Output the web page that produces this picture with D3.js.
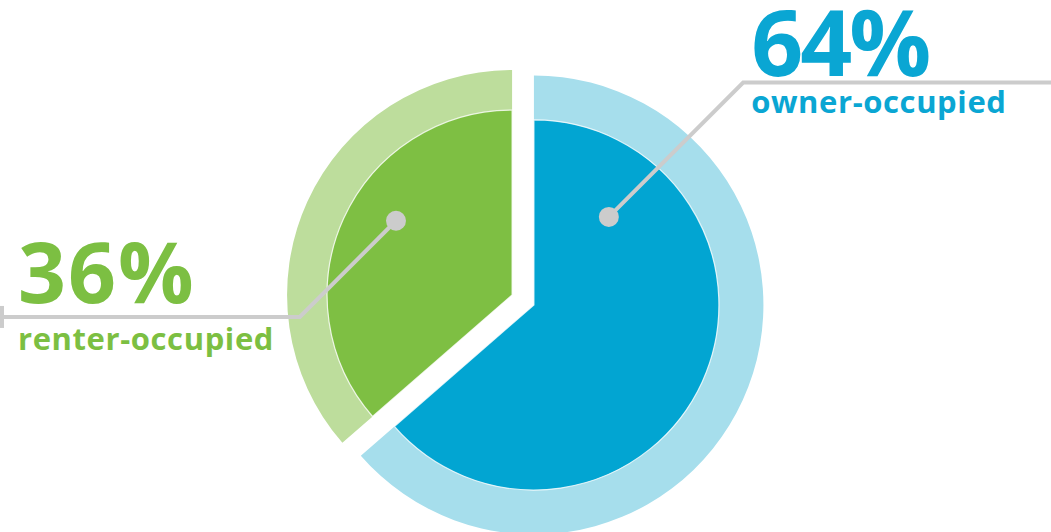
<!DOCTYPE html>
<html>
<head>
<meta charset="utf-8">
<script src="https://cdn.jsdelivr.net/npm/d3@7"></script>
<style>
  html, body { margin: 0; padding: 0; background: #fff; }
  svg { display: block; }
</style>
</head>
<body>
<svg id="chart" width="1051" height="532"></svg>
<script>
/* data */
var categories = ["owner-occupied", "renter-occupied"];
var shares = [63.6, 36.4];

/* colours per category */
var darkColors = ["#02A5D2", "#7EBF43"];
var lightColors = ["#A6DEEC", "#BDDD9C"];
var textColors = ["#0AA6D3", "#7CBF42"];
var lineColor = "#CCCCCC";

var width = 1051, height = 532;
var cx = 523, cy = 300;       // pie centre
var explode = 12;             // slice offset along its bisector
var innerR = 185;
var ringR = [229.5, 225];
// leader dot, polar from slice centre (deg clockwise from top, radius)
var dotPos = [[40.4, 115.6], [302.6, 137.8]];
var elbowLen = [190, 136];
// label typography per slice
var bigSize = [91, 84], bigSpacing = [-3, 2], bigDy = [-7, -14];
var smallSize = 31, smallSpacing = 0.6, smallDy = [30, 33];

var svg = d3.select("#chart");

var pie = d3.pie().sort(null).value(function(d) { return d; });
var arcs = pie(shares);

var fmt = d3.format(".0f");

function sliceCenter(d) {
    var mid = (d.startAngle + d.endAngle) / 2;
    return [cx + explode * Math.sin(mid), cy - explode * Math.cos(mid)];
}

var slices = svg.append("g").attr("class", "slices")
    .selectAll("g")
    .data(arcs)
    .enter()
    .append("g")
    .attr("transform", function(d) {
        return "translate(" + sliceCenter(d) + ")";
    });

/* outer light ring */
slices.append("path")
    .attr("fill", function(d, i) { return lightColors[i]; })
    .attr("d", function(d, i) {
        return d3.arc().innerRadius(innerR - 2).outerRadius(ringR[i])(d);
    });

/* inner solid pie */
slices.append("path")
    .attr("fill", function(d, i) { return darkColors[i]; })
    .attr("stroke", "#ffffff")
    .attr("stroke-opacity", 0.8)
    .attr("stroke-width", 1.2)
    .attr("d", d3.arc().innerRadius(0).outerRadius(innerR));

/* leaders + labels */
var labels = svg.append("g").attr("class", "labels");

arcs.forEach(function(d, i) {
    var c = sliceCenter(d);
    var a = dotPos[i][0] * Math.PI / 180, r = dotPos[i][1];
    var dot = [c[0] + r * Math.sin(a), c[1] - r * Math.cos(a)];
    var right = i === 0;
    var s = elbowLen[i] / Math.SQRT2;
    var elbow = right ? [dot[0] + s, dot[1] - s] : [dot[0] - s, dot[1] + s];
    var endX = right ? width : 2;

    labels.append("polyline")
        .attr("points", [dot, elbow, [endX, elbow[1]]].map(function(p) { return p.join(","); }).join(" "))
        .attr("fill", "none")
        .attr("stroke", lineColor)
        .attr("stroke-width", 4);

    if (!right) {
        labels.append("line")
            .attr("x1", 2).attr("x2", 2)
            .attr("y1", elbow[1] - 11).attr("y2", elbow[1] + 11)
            .attr("stroke", lineColor)
            .attr("stroke-width", 4);
    }

    labels.append("circle")
        .attr("cx", dot[0]).attr("cy", dot[1])
        .attr("r", 10)
        .attr("fill", lineColor);

    var tx = right ? elbow[0] + 8 : 18;

    labels.append("text")
        .attr("x", tx)
        .attr("y", elbow[1] + bigDy[i])
        .attr("fill", textColors[i])
        .attr("font-family", "'Open Sans', sans-serif")
        .attr("font-weight", 700)
        .attr("font-size", bigSize[i] + "px")
        .attr("letter-spacing", bigSpacing[i] + "px")
        .text(fmt(d.data) + "%");

    labels.append("text")
        .attr("x", tx)
        .attr("y", elbow[1] + smallDy[i])
        .attr("fill", textColors[i])
        .attr("font-family", "'Open Sans', sans-serif")
        .attr("font-weight", 700)
        .attr("font-size", smallSize + "px")
        .attr("letter-spacing", smallSpacing + "px")
        .text(categories[i]);
});
</script>
</body>
</html>
